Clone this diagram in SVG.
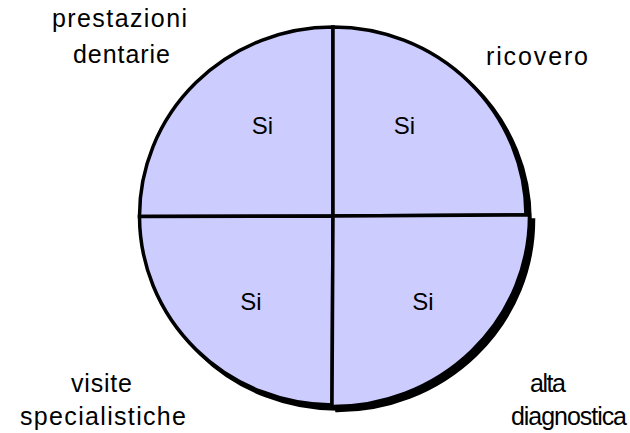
<svg xmlns="http://www.w3.org/2000/svg" width="630" height="433" viewBox="0 0 630 433">
<style>
.slice{fill:#CCCCFF;stroke:#000;stroke-width:3.5;stroke-linejoin:miter}
.shadow{fill:#000;stroke:#000;stroke-width:3.5}
.t{font-family:"Liberation Sans",Arial,sans-serif;font-size:24px;fill:#000}
.l{font-size:25px}
.m{text-anchor:middle}
</style>
<rect width="630" height="433" fill="#fff"/>
<g id="shadows" transform="translate(4,4)">
<path class="shadow" d="M333,216 L526,216 A193,189 0 0,0 333,27 Z"/>
<path class="shadow" d="M333,216 L529.5,216 A196.5,190.5 0 0,1 333,406.5 Z"/>
<path class="shadow" d="M333,216 L333,405 A193.5,189 0 0,1 139.5,216 Z"/>
</g>
<g id="slice-prestazioni">
<path class="slice" d="M333,216 L139.5,216.5 A193.5,189 0 0,1 333,27 Z"/>
<text class="t m" x="262.5" y="134">Si</text>
</g>
<g id="slice-ricovero">
<path class="slice" d="M333,216 L526,215 A193,189 0 0,0 333,27 Z"/>
<text class="t m" x="404.5" y="134">Si</text>
</g>
<g id="slice-visite">
<path class="slice" d="M333,216 L332,405 A193.5,189 0 0,1 139.5,216.5 Z"/>
<text class="t m" x="251" y="310">Si</text>
</g>
<g id="slice-diagnostica">
<path class="slice" d="M333,216 L529.5,215 A196.5,190.5 0 0,1 332,406.5 Z"/>
<text class="t m" x="423" y="310">Si</text>
</g>
<g id="label-prestazioni">
<text class="t l" x="52" y="27" textLength="135" lengthAdjust="spacing">prestazioni</text>
<text class="t l" x="73" y="63" textLength="97" lengthAdjust="spacing">dentarie</text>
</g>
<g id="label-ricovero">
<text class="t l" x="486" y="65" textLength="102" lengthAdjust="spacing">ricovero</text>
</g>
<g id="label-visite">
<text class="t l" x="71" y="392" textLength="61" lengthAdjust="spacing">visite</text>
<text class="t l" x="20" y="425" textLength="166" lengthAdjust="spacing">specialistiche</text>
</g>
<g id="label-diagnostica">
<text class="t l" x="530" y="392" textLength="36" lengthAdjust="spacing">alta</text>
<text class="t l" x="511" y="425" textLength="116" lengthAdjust="spacing">diagnostica</text>
</g>
</svg>
